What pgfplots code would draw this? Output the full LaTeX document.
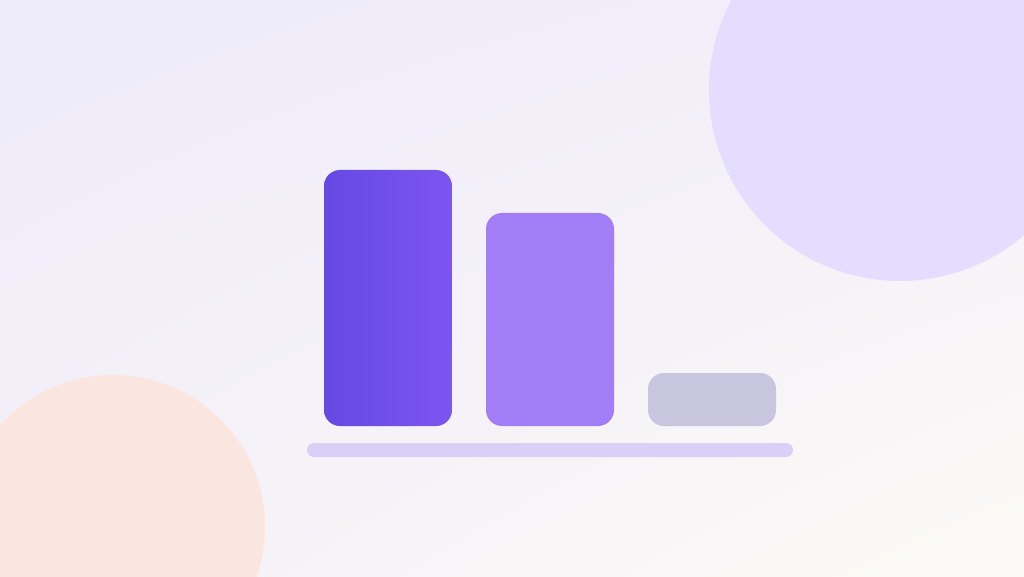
\documentclass[border=0pt]{standalone}
\usepackage{pgfplots}
\pgfplotsset{compat=1.18}
\usetikzlibrary{shadings}

\definecolor{bgA}{HTML}{EEEBF9}
\definecolor{bgB}{HTML}{F2EFF9}
\definecolor{bgC}{HTML}{F4F1F8}
\definecolor{bgD}{HTML}{FCFAF6}
\definecolor{circTR}{HTML}{E4DDFD}
\definecolor{circBL}{HTML}{FBE6DF}
\definecolor{barA}{HTML}{6549E3}
\definecolor{barAr}{HTML}{7D55F0}
\definecolor{barB}{HTML}{A27EF6}
\definecolor{barC}{HTML}{C8C6DE}
\definecolor{track}{HTML}{D9D0F8}

\begin{document}
\begin{tikzpicture}
    \begin{axis}[
        width=1024pt, height=576pt,
        scale only axis,
        hide axis,
        xmin=0, xmax=1024,
        ymin=-150, ymax=426,
        clip=true,
        clip bounding box=upper bound,
    ]
    % background and decoration
    \shade[upper left=bgA, upper right=bgB, lower left=bgC, lower right=bgD]
        (axis cs:0,-150) rectangle (axis cs:1024,426);
    \fill[circTR] (axis cs:900,336) circle[radius=191pt];
    \fill[circBL] (axis cs:113,-101) circle[radius=152pt];
    \fill[track, rounded corners=7pt] (axis cs:307,-31) rectangle (axis cs:793,-17);

    % bars (height above the track)
    \addplot[ybar, bar width=128, bar shift=0pt, draw=none,
        left color=barA, right color=barAr, rounded corners=16pt]
        coordinates {(388,256)};
    \addplot[ybar, bar width=128, bar shift=0pt, draw=none,
        fill=barB, rounded corners=16pt]
        coordinates {(550,213)};
    \addplot[ybar, bar width=128, bar shift=0pt, draw=none,
        fill=barC, rounded corners=16pt]
        coordinates {(712,53)};
    \end{axis}
\end{tikzpicture}
\end{document}
